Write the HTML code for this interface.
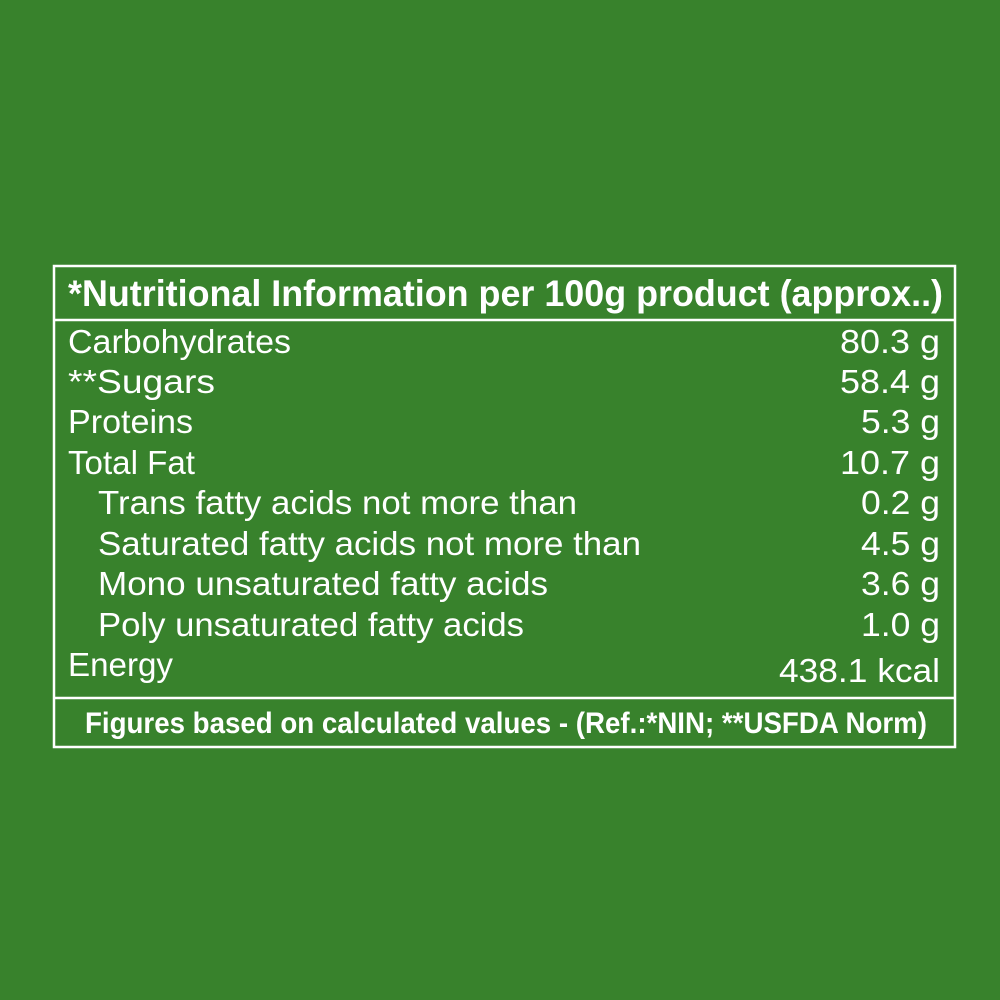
<!DOCTYPE html>
<html><head><meta charset="utf-8"><style>
html,body{margin:0;padding:0;background:#38822c;}
svg{display:block}
text{font-family:"Liberation Sans",sans-serif;fill:#fff;}
.r{font-size:33px;}
.b{font-weight:bold;}
</style></head><body>
<svg width="1000" height="1000" viewBox="0 0 1000 1000">
<rect x="0" y="0" width="1000" height="1000" fill="#38822c"/>
<rect x="54" y="266" width="901" height="481" fill="none" stroke="#fff" stroke-width="2.5"/>
<line x1="54" y1="320" x2="955" y2="320" stroke="#fff" stroke-width="2.5"/>
<line x1="54" y1="698" x2="955" y2="698" stroke="#fff" stroke-width="2.5"/>
<text class="b" x="68" y="306" font-size="37" textLength="875" lengthAdjust="spacingAndGlyphs">*Nutritional Information per 100g product (approx..)</text>

<text class="r" x="68" y="353" textLength="223" lengthAdjust="spacingAndGlyphs">Carbohydrates</text>
<text class="r" x="840" y="353" textLength="100" lengthAdjust="spacingAndGlyphs">80.3 g</text>

<text class="r" x="68" y="393" textLength="147" lengthAdjust="spacingAndGlyphs">**Sugars</text>
<text class="r" x="840" y="393" textLength="100" lengthAdjust="spacingAndGlyphs">58.4 g</text>

<text class="r" x="68" y="433" textLength="125" lengthAdjust="spacingAndGlyphs">Proteins</text>
<text class="r" x="861" y="433" textLength="79" lengthAdjust="spacingAndGlyphs">5.3 g</text>

<text class="r" x="68" y="474" textLength="127" lengthAdjust="spacingAndGlyphs">Total Fat</text>
<text class="r" x="840" y="474" textLength="100" lengthAdjust="spacingAndGlyphs">10.7 g</text>

<text class="r" x="98" y="514" textLength="479" lengthAdjust="spacingAndGlyphs">Trans fatty acids not more than</text>
<text class="r" x="861" y="514" textLength="79" lengthAdjust="spacingAndGlyphs">0.2 g</text>

<text class="r" x="98" y="555" textLength="543" lengthAdjust="spacingAndGlyphs">Saturated fatty acids not more than</text>
<text class="r" x="861" y="555" textLength="79" lengthAdjust="spacingAndGlyphs">4.5 g</text>

<text class="r" x="98" y="595" textLength="450" lengthAdjust="spacingAndGlyphs">Mono unsaturated fatty acids</text>
<text class="r" x="861" y="595" textLength="79" lengthAdjust="spacingAndGlyphs">3.6 g</text>

<text class="r" x="98" y="636" textLength="426" lengthAdjust="spacingAndGlyphs">Poly unsaturated fatty acids</text>
<text class="r" x="861" y="636" textLength="79" lengthAdjust="spacingAndGlyphs">1.0 g</text>

<text class="r" x="68" y="676" textLength="105" lengthAdjust="spacingAndGlyphs">Energy</text>
<text class="r" x="779" y="682" textLength="161" lengthAdjust="spacingAndGlyphs">438.1 kcal</text>

<text class="b" x="85" y="733" font-size="30" textLength="842" lengthAdjust="spacingAndGlyphs">Figures based on calculated values - (Ref.:*NIN; **USFDA Norm)</text>
</svg>
</body></html>
